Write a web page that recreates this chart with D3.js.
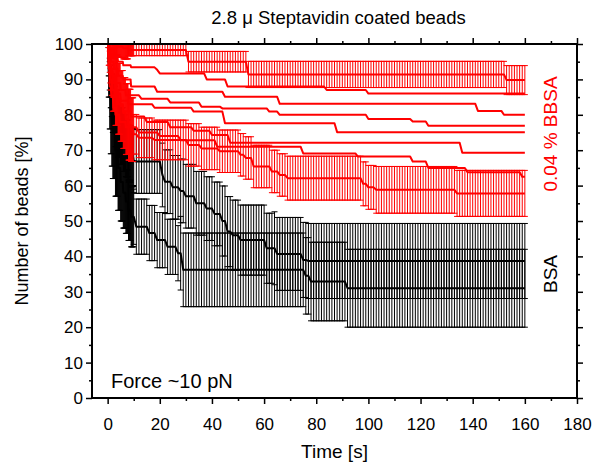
<!DOCTYPE html>
<html>
<head>
<meta charset="utf-8">
<script src="https://cdn.jsdelivr.net/npm/d3@7"></script>
<style>
  body { margin: 0; background: #fff; }
  text { font-family: "Liberation Sans", Arial, sans-serif; }
</style>
</head>
<body>
<div id="chart"></div>
<script>
// step tables: [time s, beads %]; each value holds until the next entry
const bsaUpperMean = [[0,100],[0.4,95],[0.8,91],[1.2,88],[1.6,85.5],[2,83],[3,79],[4,76],[5,74],[6,72],[7,70.5],[8,69],[9,68],[10,67],[11,66.8],[21,63],[22,61.1],[25,59.5],[28,58.5],[30,57],[34,55],[38,53.5],[41,52],[44,50],[46,47],[48,46],[51,44.6],[61,42.3],[65,40.7],[75,39],[77,38.7]];
const bsaUpperErr  = [[0,0],[0.4,4],[1,6],[2,8],[10,9],[44,9.9],[64,10.3],[75,10.6]];
const bsaLowerMean = [[0,100],[0.4,92],[0.8,86],[1.2,81],[1.6,77.5],[2,75],[3,70],[4,65],[5,61],[6,58],[7,55.5],[8,53],[9,51.2],[11,48.4],[16,46.6],[19,44.6],[23,42.7],[27,40.9],[29,36.2],[76,34.5],[78,32.9],[92,31]];
const bsaLowerErr  = [[0,0],[0.4,7],[0.8,10],[1.2,12],[2,13],[4,12],[5,11],[6,10],[7,9],[8,8.5],[10,7.8],[28,10.4],[76,10.8],[78,11.1],[92,11]];

const bbsaTopMean = [[0,100],[2,99.6],[4,99.2],[6,98.8],[8,98.3],[31,95],[54,91.4],[153,89.8]];
const bbsaTopErr  = [[0,0],[0.4,1],[1,2],[2,3],[8,1.6],[31,2.9],[54,3.7],[153,4.1]];
const bbsaLowMean = [[0,100],[0.4,97],[0.8,95],[1.2,93],[1.6,91.5],[2,90],[3,87],[4,84.5],[5,82.5],[6,80.5],[7,78.8],[8,77.2],[9,75.8],[10,74.5],[12,73.5],[18,72.9],[31,71.5],[36,70.5],[43,69.7],[51,68.7],[53,67.8],[56,65.4],[63,64],[66,63],[69,62.1],[98,60.5],[100,59.5],[103,58.8],[134,57.8]];
const bbsaLowErr  = [[0,0],[0.4,3],[1,6],[2,9],[3,10],[9,9],[10,5.6],[31,6],[69,6.2],[103,6.6],[134,6.5]];

// single BBSA runs, no error bars
const bbsaRun1 = [[0,100],[0.6,98],[1.2,97],[2,96],[4,95],[6,94],[9,93.4],[19,92.7],[20,91.7],[38,90],[46,88],[84,87],[100,86]];
const bbsaRun2 = [[0,100],[0.6,97],[1.4,95],[2.4,93],[4,91],[6,90],[9,88],[19,86.5],[45,85.1],[66,83.1],[142,81.1],[152,80]];
const bbsaRun3 = [[0,100],[0.4,96],[1,93],[2,91],[3,89],[5,87],[7,85.5],[13,84.5],[24,83.5],[36,82.3],[44,81.8],[62,80.9],[66,80],[100,78.8],[117,78.1],[123,76.9]];
const bbsaRun4 = [[0,100],[0.4,95],[1,92],[2,89],[3.4,86],[5,84],[8,83],[18,82],[33,80.9],[45,77.6],[88,75.1]];
const bbsaRun5 = [[0,100],[0.4,94],[1,90],[1.8,87],[2.8,85],[4,83],[6,81],[9,79.5],[15,78],[24,76.5],[33,75.5],[40,74.3],[47,72.1],[136,69.3]];
const bbsaRun6 = [[0,100],[0.4,93],[0.8,88],[1.4,85],[2.2,82],[3,80],[4.6,78],[7,76.5],[12,75],[20,74],[28,72.8],[42,71],[75,69.1],[96,68.2],[117,66.8],[123,65],[138,63.8],[159,62.5]];

const xTicks = d3.range(0, 181, 20);
const yTicks = d3.range(0, 101, 10);

// acquisition: 0.2 s frames for the first 10 s, then one per second
const sampleTimes = d3.range(0, 10, 0.2).concat(d3.range(10, 160.5, 1));

let width  = 594,
    height = 465,
    margin = {top: 44, right: 17, bottom: 67, left: 92},
    capW   = 6;

const svg = d3.select('#chart').append('svg')
    .attr('width', width)
    .attr('height', height);

const x = d3.scaleLinear().domain([-6, 180]).range([margin.left, width - margin.right]);
const y = d3.scaleLinear().domain([0, 100]).range([height - margin.bottom, margin.top]);

function held(steps, t) {
  let v = steps[0][1];
  for (const s of steps) { if (s[0] <= t + 1e-9) v = s[1]; else break; }
  return v;
}

function sampled(mean, err) {
  return sampleTimes.map(t => ({t: t, v: held(mean, t), e: err ? held(err, t) : 0}));
}

svg.append('clipPath').attr('id', 'plotclip')
  .append('rect')
    .attr('x', margin.left).attr('y', margin.top)
    .attr('width', width - margin.left - margin.right)
    .attr('height', height - margin.top - margin.bottom);

const plot = svg.append('g').attr('clip-path', 'url(#plotclip)');

const line = d3.line().x(d => x(d.t)).y(d => y(d.v));

function drawErrors(data, color) {
  let g = plot.append('g').attr('stroke', color).attr('stroke-width', 1).attr('fill', 'none');
  g.selectAll('path').data(data.filter(d => d.e > 0)).enter().append('path')
    .attr('d', d => {
      let xx = x(d.t), y0 = y(d.v - d.e), y1 = y(d.v + d.e);
      return `M${xx},${y0}V${y1}M${xx - capW/2},${y0}H${xx + capW/2}M${xx - capW/2},${y1}H${xx + capW/2}`;
    });
}

function drawLine(data, color, w) {
  plot.append('path').datum(data)
    .attr('fill', 'none')
    .attr('stroke', color)
    .attr('stroke-width', w)
    .attr('stroke-linejoin', 'round')
    .attr('d', line);
}

// BSA (black) first, BBSA (red) on top
const bsaA = sampled(bsaUpperMean, bsaUpperErr),
      bsaB = sampled(bsaLowerMean, bsaLowerErr);
drawErrors(bsaA, '#000');
drawErrors(bsaB, '#000');
drawLine(bsaA, '#000', 2);
drawLine(bsaB, '#000', 2);

const redTop = sampled(bbsaTopMean, bbsaTopErr),
      redLow = sampled(bbsaLowMean, bbsaLowErr);
drawErrors(redTop, '#ff0000');
drawErrors(redLow, '#ff0000');
[bbsaRun1, bbsaRun2, bbsaRun3, bbsaRun4, bbsaRun5, bbsaRun6].forEach(r => drawLine(sampled(r), '#ff0000', 2));
drawLine(redTop, '#ff0000', 2);
drawLine(redLow, '#ff0000', 2);

// axes: ticks outward on all four sides
const bottom = height - margin.bottom, right = width - margin.right;
svg.append('g').attr('transform', `translate(0,${bottom})`)
  .call(d3.axisBottom(x).tickValues(xTicks).tickSize(6).tickPadding(14));
svg.append('g').attr('transform', `translate(0,${bottom})`)
  .call(d3.axisBottom(x).tickValues(d3.range(10, 180, 20)).tickSize(3).tickFormat(''));
svg.append('g').attr('transform', `translate(0,${margin.top})`)
  .call(d3.axisTop(x).tickValues(xTicks).tickSize(6).tickFormat(''));
svg.append('g').attr('transform', `translate(0,${margin.top})`)
  .call(d3.axisTop(x).tickValues(d3.range(10, 180, 20)).tickSize(3).tickFormat(''));
svg.append('g').attr('transform', `translate(${margin.left},0)`)
  .call(d3.axisLeft(y).tickValues(yTicks).tickSize(6).tickPadding(3));
svg.append('g').attr('transform', `translate(${margin.left},0)`)
  .call(d3.axisLeft(y).tickValues(d3.range(5, 100, 10)).tickSize(3).tickFormat(''));
svg.append('g').attr('transform', `translate(${right},0)`)
  .call(d3.axisRight(y).tickValues(yTicks).tickSize(6).tickFormat(''));
svg.append('g').attr('transform', `translate(${right},0)`)
  .call(d3.axisRight(y).tickValues(d3.range(5, 100, 10)).tickSize(3).tickFormat(''));

svg.selectAll('.domain').remove();
svg.selectAll('.tick line').attr('stroke', '#000').attr('stroke-width', 1.5);
svg.selectAll('.tick text').style('font-size', '17px').attr('fill', '#000');

svg.append('rect')
  .attr('x', margin.left).attr('y', margin.top)
  .attr('width', right - margin.left).attr('height', bottom - margin.top)
  .attr('fill', 'none').attr('stroke', '#000').attr('stroke-width', 2);

// labels
const cx = (margin.left + right) / 2;
svg.append('text').attr('x', cx + 4).attr('y', 24)
  .attr('text-anchor', 'middle').style('font-size', '18.5px')
  .text('2.8 \u03bc Steptavidin coated beads');
svg.append('text').attr('x', cx).attr('y', 458)
  .attr('text-anchor', 'middle').style('font-size', '19px')
  .text('Time [s]');
svg.append('text').attr('transform', `translate(28,${(margin.top + bottom) / 2}) rotate(-90)`)
  .attr('text-anchor', 'middle').style('font-size', '18px')
  .text('Number of beads [%]');
svg.append('text').attr('x', 111).attr('y', 388).style('font-size', '20px')
  .text('Force ~10 pN');
svg.append('text').attr('transform', `translate(557,134) rotate(-90)`)
  .attr('text-anchor', 'middle').style('font-size', '19px').attr('fill', '#ff0000')
  .text('0.04 % BBSA');
svg.append('text').attr('transform', `translate(557,274) rotate(-90)`)
  .attr('text-anchor', 'middle').style('font-size', '19px').attr('fill', '#000')
  .text('BSA');
</script>
</body>
</html>
